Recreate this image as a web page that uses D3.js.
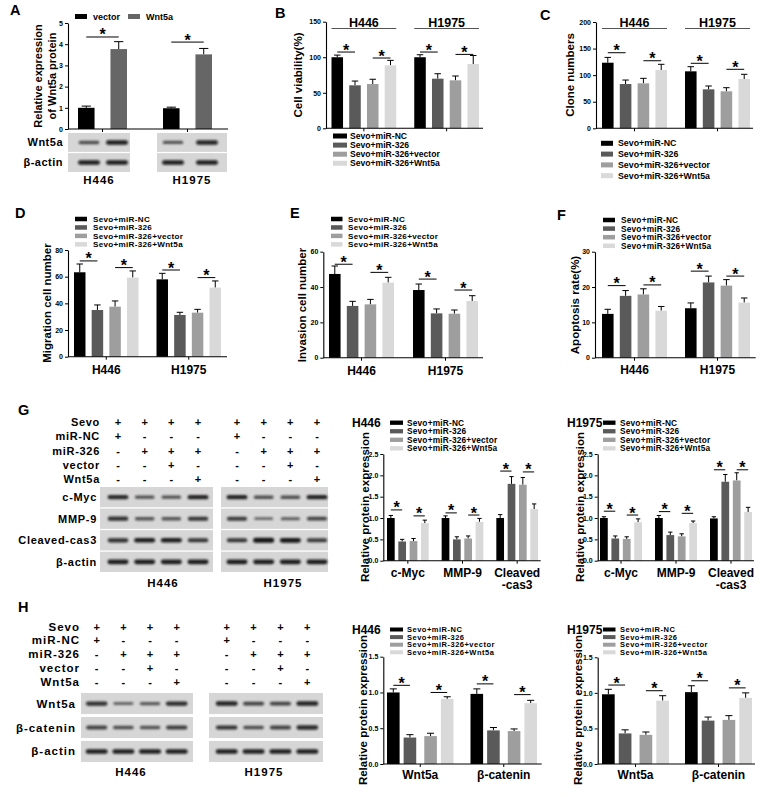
<!DOCTYPE html>
<html><head><meta charset="utf-8">
<script src="https://cdn.jsdelivr.net/npm/d3@7"></script>
<style>
body{margin:0;background:#fff}
svg{display:block;font-family:"Liberation Sans",Arial,Helvetica,sans-serif}
</style></head><body>
<svg id="fig" width="770" height="797"></svg>
<script>
// ---------------- DATA ----------------
const cellLines = ["H446", "H1975"];
const seriesNames = ["Sevo+miR-NC", "Sevo+miR-326", "Sevo+miR-326+vector", "Sevo+miR-326+Wnt5a"];
const seriesColors = ["#000000", "#5a5a5a", "#9e9e9e", "#d9d9d9"];

// Panel A
const aSeries = ["vector", "Wnt5a"];
const aColors = ["#000000", "#666666"];
const aValues = [[1.0, 3.77], [0.98, 3.52]];
const aErrors = [[0.08, 0.35], [0.05, 0.28]];
const aTicks = [0, 1, 2, 3, 4, 5];
const aSig = [[0, 0, 1, 4.34], [1, 0, 1, 4.1]];

// Panel B: cell viability (%)
const bValues = [[100, 60.5, 62.3, 88.6], [100, 69.8, 67.5, 90.4]];
const bErrors = [[3, 6, 6.7, 7], [3.5, 7, 6.1, 12]];
const bTicks = [0, 50, 100, 150];
const bSig = [[0, 0, 1, 107.3], [0, 2, 3, 98.9], [1, 0, 1, 107.3], [1, 2, 3, 104]];

// Panel C: clone numbers
const cValues = [[123.4, 83.3, 84.6, 109.6], [107.2, 73.3, 69.6, 92.7]];
const cErrors = [[10, 7.5, 9.4, 10.8], [8.7, 6.3, 6.8, 8.9]];
const cTicks = [0, 50, 100, 150, 200];
const cSig = [[0, 0, 1, 142.2], [0, 2, 3, 127.1], [1, 0, 1, 122.3], [1, 2, 3, 111]];

// Panel D: migration
const dValues = [[63.3, 35, 37.5, 59.3], [58, 31.3, 33, 51.8]];
const dErrors = [[6.2, 3.8, 4.3, 5], [4.5, 2, 2.5, 5]];
const dTicks = [0, 20, 40, 60, 80];
const dSig = [[0, 0, 1, 71.8], [0, 2, 3, 66.8], [1, 0, 1, 65], [1, 2, 3, 59.3]];

// Panel E: invasion
const eValues = [[47.4, 29.3, 30.2, 42.5], [38.3, 25.1, 24.9, 32.1]];
const eErrors = [[4.5, 2.6, 2.8, 3], [3.4, 2.5, 2.1, 3]];
const eTicks = [0, 20, 40, 60];
const eSig = [[0, 0, 1, 52.9], [0, 2, 3, 48.3], [1, 0, 1, 44.5], [1, 2, 3, 38.3]];

// Panel F: apoptosis (%)
const fValues = [[12.4, 17.5, 17.9, 13.3], [14, 21.3, 20.4, 15.6]];
const fErrors = [[1.3, 1.5, 1.6, 1.2], [1.5, 1.8, 1.7, 1.3]];
const fTicks = [0, 10, 20, 30];
const fSig = [[0, 0, 1, 20.4], [0, 2, 3, 20.6], [1, 0, 1, 24.5], [1, 2, 3, 23.1]];

// Panel G: relative protein expression
const gProteins = ["c-Myc", "MMP-9", "Cleaved-cas3"];
const gProteinLabels = [["c-Myc"], ["MMP-9"], ["Cleaved", "-cas3"]];
const gTicks = [0, 0.5, 1.0, 1.5, 2.0, 2.5];
const gH446Values = [[1.0, 0.45, 0.46, 0.88], [1.0, 0.50, 0.52, 0.91], [1.0, 1.80, 1.78, 1.21]];
const gH446Errors = [[0.06, 0.05, 0.06, 0.07], [0.05, 0.06, 0.06, 0.08], [0.08, 0.17, 0.17, 0.12]];
const gH446Sig = [[0, 0, 1, 1.19], [0, 2, 3, 1.05], [1, 0, 1, 1.12], [1, 2, 3, 1.07], [2, 0, 1, 2.10], [2, 2, 3, 2.08]];
const gH1975Values = [[1.0, 0.52, 0.51, 0.90], [1.0, 0.60, 0.57, 0.88], [0.99, 1.85, 1.88, 1.14]];
const gH1975Errors = [[0.03, 0.06, 0.05, 0.08], [0.06, 0.07, 0.06, 0.05], [0.04, 0.17, 0.18, 0.11]];
const gH1975Sig = [[0, 0, 1, 1.16], [0, 2, 3, 1.07], [1, 0, 1, 1.15], [1, 2, 3, 1.11], [2, 0, 1, 2.13], [2, 2, 3, 2.13]];

// Panel H
const hProteins = ["Wnt5a", "β-catenin"];
const hTicks = [0, 0.5, 1.0, 1.5];
const hH446Values = [[1.0, 0.37, 0.39, 0.91], [0.98, 0.47, 0.46, 0.85]];
const hH446Errors = [[0.05, 0.04, 0.04, 0.03], [0.07, 0.04, 0.03, 0.04]];
const hH446Sig = [[0, 0, 1, 1.10], [0, 2, 3, 1.0], [1, 0, 1, 1.12], [1, 2, 3, 0.97]];
const hH1975Values = [[0.98, 0.43, 0.41, 0.89], [1.01, 0.61, 0.62, 0.93]];
const hH1975Errors = [[0.07, 0.05, 0.04, 0.07], [0.09, 0.05, 0.06, 0.07]];
const hH1975Sig = [[0, 0, 1, 1.11], [0, 2, 3, 1.03], [1, 0, 1, 1.17], [1, 2, 3, 1.07]];

// Western blot treatment table
const treatRows = ["Sevo", "miR-NC", "miR-326", "vector", "Wnt5a"];
const treatSigns = [["+", "+", "+", "+"], ["+", "-", "-", "-"], ["-", "+", "+", "+"], ["-", "-", "+", "-"], ["-", "-", "-", "+"]];

// Blot band strengths (rows x lanes)
const blotARows = ["Wnt5a", "β-actin"];
const bandsA_H446 = [[0.6, 1.0], [1, 1]];
const bandsA_H1975 = [[0.55, 0.95], [1, 1]];
const blotGRows = ["c-Myc", "MMP-9", "Cleaved-cas3", "β-actin"];
const bandsG_H446 = [[0.9, 0.55, 0.55, 0.95], [0.85, 0.55, 0.55, 0.8], [0.85, 1.0, 1.0, 0.8], [1, 1, 1, 1]];
const bandsG_H1975 = [[0.95, 0.6, 0.6, 0.95], [0.75, 0.35, 0.45, 0.7], [0.8, 1.15, 1.05, 0.75], [1, 1, 1, 1]];
const blotHRows = ["Wnt5a", "β-catenin", "β-actin"];
const bandsH_H446 = [[0.85, 0.4, 0.5, 0.9], [0.7, 0.6, 0.55, 0.75], [1, 1, 1, 1]];
const bandsH_H1975 = [[0.95, 0.7, 0.7, 0.95], [0.85, 0.6, 0.7, 0.9], [1, 1, 1, 1]];

// ---------------- DRAWING ----------------
const svg = d3.select("#fig");
const filt = svg.append("defs").append("filter").attr("id", "blur")
  .attr("x", "-30%").attr("y", "-200%").attr("width", "160%").attr("height", "500%");
filt.append("feGaussianBlur").attr("stdDeviation", 0.8);

function txt(parent, x, y, s, size, o = {}) {
  const t = parent.append("text").attr("x", x).attr("y", y).attr("dy", o.dy == null ? "0.35em" : o.dy)
    .attr("font-size", size).attr("font-weight", o.weight || "bold")
    .attr("text-anchor", o.anchor || "start").attr("fill", "#000").text(s);
  if (o.ls) t.attr("letter-spacing", o.ls);
  if (o.rotate) t.attr("transform", `rotate(-90,${x},${y})`);
  return t;
}

function barChart(c) {
  const g = svg.append("g");
  const y = d3.scaleLinear().domain([0, c.ticks[c.ticks.length - 1]]).range(c.yRange);
  const nG = c.groups.length;
  const band = (c.bars[1] - c.bars[0] - c.groupGap * (nG - 1)) / nG;
  const xg = d3.scaleBand().domain(c.groups).range(c.bars)
    .paddingInner(c.groupGap / (band + c.groupGap)).paddingOuter(0);
  let barX, bw;
  if (c.pairs) {
    const xp = d3.scaleBand().domain([0, 1]).range([0, xg.bandwidth()]).paddingInner(c.pairs[0]);
    const xb = d3.scaleBand().domain([0, 1]).range([0, xp.bandwidth()]).paddingInner(c.pairs[1]);
    bw = xb.bandwidth();
    barX = (gn, si) => xg(gn) + xp(Math.floor(si / 2)) + xb(si % 2);
  } else {
    const xs = d3.scaleBand().domain(d3.range(c.series.length)).range([0, xg.bandwidth()]).paddingInner(c.innerPad);
    bw = xs.bandwidth();
    barX = (gn, si) => xg(gn) + xs(si);
  }
  // error bars then bars
  c.groups.forEach((gn, gi) => {
    c.series.forEach((sn, si) => {
      const v = c.values[gi][si], e = c.errors[gi][si];
      const x0 = barX(gn, si), cx = x0 + bw / 2, cw = bw * 0.28;
      g.append("line").attr("x1", cx).attr("x2", cx).attr("y1", y(v)).attr("y2", y(v + e))
        .attr("stroke", "#000").attr("stroke-width", 1);
      g.append("line").attr("x1", cx - cw).attr("x2", cx + cw).attr("y1", y(v + e)).attr("y2", y(v + e))
        .attr("stroke", "#000").attr("stroke-width", 1);
      g.append("rect").attr("x", x0).attr("y", y(v)).attr("width", bw).attr("height", y(0) - y(v))
        .attr("fill", c.colors[si]);
    });
  });
  // y axis
  const ya = g.append("g").attr("transform", `translate(${c.xAxis[0]},0)`)
    .call(d3.axisLeft(y).tickValues(c.ticks).tickSize(3).tickSizeOuter(0).tickPadding(2)
      .tickFormat(c.fmt || d3.format("d")));
  ya.select(".domain").attr("stroke", "#000").attr("stroke-width", 1.1);
  ya.selectAll(".tick line").attr("stroke", "#000").attr("stroke-width", 1);
  ya.selectAll("text").attr("font-size", 7).attr("font-weight", "bold").attr("fill", "#000")
    .attr("font-family", null);
  // x axis
  const xa = g.append("g").attr("transform", `translate(0,${y(0)})`)
    .call(d3.axisBottom(xg).tickSize(3).tickFormat(""));
  xa.select(".domain").remove();
  xa.selectAll(".tick line").attr("stroke", "#000");
  g.append("line").attr("x1", c.xAxis[0]).attr("x2", c.xAxis[1]).attr("y1", y(0)).attr("y2", y(0))
    .attr("stroke", "#000").attr("stroke-width", 1.1);
  // x labels
  if (c.xLabels) {
    c.groups.forEach((gn, gi) => {
      c.xLabels[gi].forEach((l, li) => {
        txt(g, xg(gn) + xg.bandwidth() / 2, c.xLabelY + li * 12.5, l, c.xLabelSize || 12, { anchor: "middle" });
      });
    });
  }
  // significance
  c.sig.forEach(s => {
    const gn = c.groups[s[0]];
    const x1 = barX(gn, s[1]) + bw / 2, x2 = barX(gn, s[2]) + bw / 2, yy = y(s[3]);
    g.append("line").attr("x1", x1).attr("x2", x2).attr("y1", yy).attr("y2", yy)
      .attr("stroke", "#000").attr("stroke-width", 1);
    txt(g, (x1 + x2) / 2, yy + 3.5, "*", 16, { anchor: "middle", dy: 0 });
  });
  // legend
  if (c.legend) {
    const L = c.legend;
    c.series.forEach((sn, si) => {
      const lx = L.x + si * (L.dx || 0), ly = L.y + si * (L.dy || 0);
      g.append("rect").attr("x", lx).attr("y", ly - L.h / 2).attr("width", L.w).attr("height", L.h)
        .attr("fill", c.colors[si]);
      txt(g, lx + L.tOff, ly, sn, L.size, { ls: L.ls });
    });
  }
  // group headers
  if (c.header) {
    c.groups.forEach(gn => {
      g.append("line").attr("x1", xg(gn)).attr("x2", xg(gn) + xg.bandwidth())
        .attr("y1", c.header.lineY).attr("y2", c.header.lineY).attr("stroke", "#555").attr("stroke-width", 1.2);
      txt(g, xg(gn) + xg.bandwidth() / 2, c.header.textY, gn, 12.5, { anchor: "middle" });
    });
  }
  // titles
  if (c.yTitle) {
    c.yTitle.lines.forEach((l, li) => txt(g, c.yTitle.xs[li], c.yTitle.y, l, c.yTitle.size || 11.5,
      { anchor: "middle", rotate: true }));
  }
  if (c.title) txt(g, c.title.x, c.title.y, c.title.text, 12);
  return g;
}

function blot(c) {
  const g = svg.append("g");
  const yr = d3.scaleBand().domain(c.rows).range(c.rowRange).paddingInner(c.rowPad).paddingOuter(0);
  c.boxes.forEach(b => {
    const xl = d3.scalePoint().domain(d3.range(b.bands[0].length)).range(b.lanes);
    c.rows.forEach((r, ri) => {
      g.append("rect").attr("x", b.box[0]).attr("y", yr(r)).attr("width", b.box[1] - b.box[0])
        .attr("height", yr.bandwidth()).attr("fill", "#d6d6d6");
      b.bands[ri].forEach((v, li) => {
        const h = 1.8 + 2.8 * v, w = c.bandW * (0.85 + 0.15 * Math.min(v, 1));
        g.append("rect").attr("x", xl(li) - w / 2).attr("y", yr(r) + yr.bandwidth() / 2 - h / 2)
          .attr("width", w).attr("height", h).attr("rx", h / 2)
          .attr("fill", "#151515").attr("opacity", Math.min(1, 0.35 + 0.6 * v)).attr("filter", "url(#blur)");
      });
    });
    txt(g, b.labelX, c.labelY, b.label, c.bottomSize || 11.5, { anchor: "middle", ls: c.bottomLs || 1 });
  });
  c.rows.forEach(r => txt(g, c.labelX, yr(r) + yr.bandwidth() / 2, r, c.labelSize, { anchor: "end", ls: c.labelLs }));
}

function signTable(c) {
  const g = svg.append("g");
  const yr = d3.scalePoint().domain(c.rows).range(c.rowRange);
  c.rows.forEach((r, ri) => {
    txt(g, c.labelX, yr(r), r, c.labelSize, { anchor: "end", ls: c.labelLs });
    c.lanes.forEach(lr => {
      const xl = d3.scalePoint().domain(d3.range(4)).range(lr);
      c.signs[ri].forEach((s, li) => txt(g, xl(li), yr(r), s, 11, { anchor: "middle" }));
    });
  });
}

// panel letters
[["A", 10, 15], ["B", 275, 18], ["C", 540, 20], ["D", 15, 218], ["E", 290, 218], ["F", 557, 220],
 ["G", 18, 415], ["H", 18, 612]].forEach(d => txt(svg, d[1], d[2], d[0], 14.5, { dy: 0 }));

// ---- A ----
barChart({
  groups: cellLines, series: aSeries, colors: aColors, values: aValues, errors: aErrors,
  bars: [78, 212], groupGap: 36, innerPad: 0.49, xAxis: [68, 228],
  ticks: aTicks, yRange: [129, 23], sig: aSig,
  legend: { x: 75, y: 16.5, dx: 53, w: 12, h: 5, tOff: 18, size: 9 },
  yTitle: { lines: ["Relative expression", "of Wnt5a protein"], xs: [38, 52], y: 76, size: 11 }
});
blot({
  rows: blotARows, rowRange: [133, 172], rowPad: 0.06, bandW: 22, labelX: 63, labelY: 180,
  labelSize: 11, labelLs: 0.5,
  boxes: [{ box: [68, 130], lanes: [89, 117], bands: bandsA_H446, label: "H446", labelX: 99 },
          { box: [157, 227], lanes: [173, 207], bands: bandsA_H1975, label: "H1975", labelX: 192 }]
});

// ---- B ----
barChart({
  groups: cellLines, series: seriesNames, colors: seriesColors, values: bValues, errors: bErrors,
  bars: [331.5, 479], groupGap: 18, innerPad: 0.35, xAxis: [326, 483],
  ticks: bTicks, yRange: [128.3, 21.7], sig: bSig,
  legend: { x: 333, y: 136, dy: 9.1, w: 14, h: 5, tOff: 17, size: 8.6 },
  header: { lineY: 28.5, textY: 22.5 },
  yTitle: { lines: ["Cell viability(%)"], xs: [298], y: 75 }
});

// ---- C ----
barChart({
  groups: cellLines, series: seriesNames, colors: seriesColors, values: cValues, errors: cErrors,
  bars: [602, 750], groupGap: 18, innerPad: 0.35, xAxis: [596, 753],
  ticks: cTicks, yRange: [128.3, 22], sig: cSig,
  legend: { x: 601, y: 143.3, dy: 10.8, w: 12, h: 5, tOff: 17, size: 8.8 },
  header: { lineY: 28.5, textY: 22.7 },
  yTitle: { lines: ["Clone numbers"], xs: [570], y: 75 }
});

// ---- D ----
barChart({
  groups: cellLines, series: seriesNames, colors: seriesColors, values: dValues, errors: dErrors,
  bars: [74, 221], groupGap: 18, innerPad: 0.35, xAxis: [68, 227],
  ticks: dTicks, yRange: [356.7, 250], sig: dSig,
  legend: { x: 75, y: 219, dy: 8.45, w: 12, h: 4.5, tOff: 18, size: 8.1, ls: 0.3 },
  xLabels: [["H446"], ["H1975"]], xLabelY: 370,
  yTitle: { lines: ["Migration cell number"], xs: [47], y: 303 }
});

// ---- E ----
barChart({
  groups: cellLines, series: seriesNames, colors: seriesColors, values: eValues, errors: eErrors,
  bars: [329, 478], groupGap: 19, innerPad: 0.35, xAxis: [323.3, 483],
  ticks: eTicks, yRange: [357.7, 251.7], sig: eSig,
  legend: { x: 331, y: 219, dy: 8.45, w: 11.5, h: 4.5, tOff: 17, size: 8.1, ls: 0.3 },
  xLabels: [["H446"], ["H1975"]], xLabelY: 371,
  yTitle: { lines: ["Invasion cell number"], xs: [302], y: 305 }
});

// ---- F ----
barChart({
  groups: cellLines, series: seriesNames, colors: seriesColors, values: fValues, errors: fErrors,
  bars: [602, 750], groupGap: 18, innerPad: 0.35, xAxis: [595, 755.7],
  ticks: fTicks, yRange: [357.7, 251.7], sig: fSig,
  legend: { x: 603, y: 220, dy: 8.6, w: 12, h: 4.5, tOff: 18, size: 8.3, ls: 0.2 },
  xLabels: [["H446"], ["H1975"]], xLabelY: 370,
  yTitle: { lines: ["Apoptosis rate(%)"], xs: [575], y: 305 }
});

// ---- G ----
signTable({
  rows: treatRows, signs: treatSigns, rowRange: [422.5, 479], labelX: 100, labelSize: 11, labelLs: 0.7,
  lanes: [[118, 198], [237, 317]]
});
blot({
  rows: blotGRows, rowRange: [487, 572], rowPad: 0.06, bandW: 21, labelX: 97, labelY: 583,
  labelSize: 11, labelLs: 0.7,
  boxes: [{ box: [100, 213], lanes: [118, 198], bands: bandsG_H446, label: "H446", labelX: 163 },
          { box: [221, 328], lanes: [237, 317], bands: bandsG_H1975, label: "H1975", labelX: 283 }]
});
const gFmt = d3.format(".1f");
barChart({
  groups: gProteins, series: seriesNames, colors: seriesColors, values: gH446Values, errors: gH446Errors,
  bars: [387, 538], groupGap: 13, innerPad: 0.32, xAxis: [383.3, 540.7],
  ticks: gTicks, fmt: gFmt, yRange: [560.7, 454], sig: gH446Sig,
  legend: { x: 390, y: 422.7, dy: 8.55, w: 13, h: 4.3, tOff: 17, size: 8.3, ls: 0.2 },
  xLabels: gProteinLabels, xLabelY: 572.7,
  title: { text: "H446", x: 352, y: 423 },
  yTitle: { lines: ["Relative protein expression"], xs: [365], y: 507 }
});
barChart({
  groups: gProteins, series: seriesNames, colors: seriesColors, values: gH1975Values, errors: gH1975Errors,
  bars: [600, 752], groupGap: 13, innerPad: 0.32, xAxis: [597.7, 754],
  ticks: gTicks, fmt: gFmt, yRange: [560.7, 454], sig: gH1975Sig,
  legend: { x: 603, y: 422.7, dy: 8.55, w: 12.5, h: 4.3, tOff: 17, size: 8.3, ls: 0.2 },
  xLabels: gProteinLabels, xLabelY: 572.7,
  title: { text: "H1975", x: 567, y: 423 },
  yTitle: { lines: ["Relative protein expression"], xs: [580], y: 507 }
});

// ---- H ----
signTable({
  rows: treatRows, signs: treatSigns, rowRange: [626.7, 681.7], labelX: 80, labelSize: 11.5, labelLs: 1,
  lanes: [[96.7, 176.7], [226.7, 307.3]]
});
blot({
  rows: blotHRows, rowRange: [693, 762], rowPad: 0.12, bandW: 22, labelX: 76, labelY: 772,
  labelSize: 11.5, labelLs: 1,
  boxes: [{ box: [81, 193], lanes: [96.7, 176.7], bands: bandsH_H446, label: "H446", labelX: 131 },
          { box: [209, 323], lanes: [226.7, 307.3], bands: bandsH_H1975, label: "H1975", labelX: 264 }]
});
const hFmt = d3.format(".1f");
barChart({
  groups: hProteins, series: seriesNames, colors: seriesColors, values: hH446Values, errors: hH446Errors,
  bars: [387, 537], groupGap: 17, pairs: [0.216, 0.242], xAxis: [383.3, 541.7],
  ticks: hTicks, fmt: hFmt, yRange: [764, 656.7], sig: hH446Sig,
  legend: { x: 390, y: 629.5, dy: 7.6, w: 13, h: 4, tOff: 17, size: 7.5, ls: 0.5 },
  xLabels: [["Wnt5a"], ["β-catenin"]], xLabelY: 775,
  title: { text: "H446", x: 352, y: 630 },
  yTitle: { lines: ["Relative protein expression"], xs: [363], y: 710 }
});
barChart({
  groups: hProteins, series: seriesNames, colors: seriesColors, values: hH1975Values, errors: hH1975Errors,
  bars: [602, 752], groupGap: 16, pairs: [0.216, 0.242], xAxis: [597.7, 755],
  ticks: hTicks, fmt: hFmt, yRange: [764, 657.3], sig: hH1975Sig,
  legend: { x: 603, y: 629.5, dy: 7.6, w: 12.5, h: 4, tOff: 17, size: 7.5, ls: 0.5 },
  xLabels: [["Wnt5a"], ["β-catenin"]], xLabelY: 775,
  title: { text: "H1975", x: 567, y: 630 },
  yTitle: { lines: ["Relative protein expression"], xs: [578], y: 710 }
});
</script></body></html>
